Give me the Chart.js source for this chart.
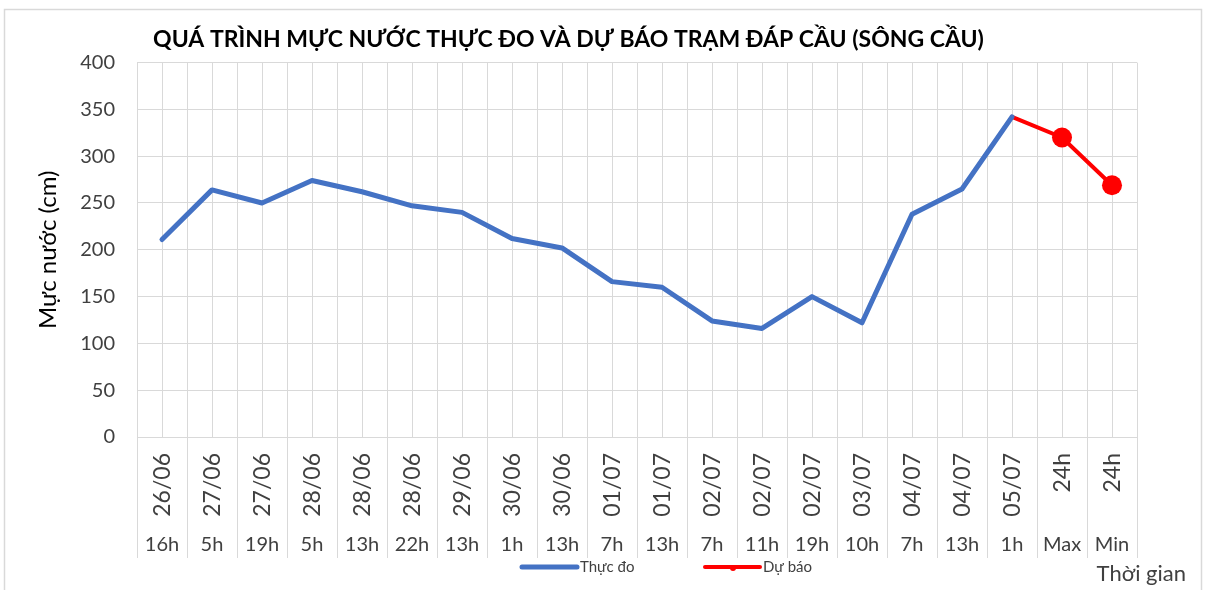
<!DOCTYPE html>
<html lang="vi">
<head>
<meta charset="utf-8">
<title>Mực nước trạm Đáp Cầu</title>
<script src="https://cdn.jsdelivr.net/npm/chart.js@4.4.1/dist/chart.umd.min.js"></script>
<style>
  html, body { margin: 0; padding: 0; background: #fff; }
  #khung { width: 1209px; height: 590px; position: relative; }
</style>
</head>
<body>
<div id="khung"><canvas id="bieuDo"></canvas></div>
<script>
// Dữ liệu
const ngay = ["26/06", "27/06", "27/06", "28/06", "28/06", "28/06", "29/06", "30/06", "30/06", "01/07",
  "01/07", "02/07", "02/07", "02/07", "03/07", "04/07", "04/07", "05/07", "24h", "24h"];
const gio = ["16h", "5h", "19h", "5h", "13h", "22h", "13h", "1h", "13h", "7h",
  "13h", "7h", "11h", "19h", "10h", "7h", "13h", "1h", "Max", "Min"];
const thucDo = [211, 264, 250, 274, 262, 247, 240, 212, 202, 166,
  160, 124, 116, 150, 122, 238, 265, 342, null, null];
const duBao = [null, null, null, null, null, null, null, null, null, null,
  null, null, null, null, null, null, null, 342, 320, 269];
const mocTrucY = [0, 50, 100, 150, 200, 250, 300, 350, 400];

const FONT = "Lato, 'Open Sans', sans-serif";
const MAU_CHU = "#404040";
const MAU_LUOI = "#d9d9d9";

// Khung viền, lưới giữa cột, nhãn hai tầng và chú thích
const veThem = {
  id: "veThem",
  beforeDraw(chart) {
    const ctx = chart.ctx;
    ctx.save();
    ctx.fillStyle = "#fff";
    ctx.fillRect(0, 0, chart.width, chart.height);
    ctx.strokeStyle = MAU_LUOI;
    ctx.lineWidth = 1.5;
    ctx.strokeRect(4.5, 9.5, 1197, 600);
    ctx.restore();
  },
  beforeDatasetsDraw(chart) {
    const ctx = chart.ctx;
    const xs = chart.scales.x;
    const a = chart.chartArea;
    ctx.save();
    ctx.strokeStyle = MAU_LUOI;
    ctx.lineWidth = 1;
    for (let i = 0; i < ngay.length; i++) {
      const x = Math.round(xs.getPixelForValue(i)) + 0.5;
      ctx.beginPath();
      ctx.moveTo(x, a.top);
      ctx.lineTo(x, a.bottom);
      ctx.stroke();
    }
    ctx.restore();
  },
  afterDraw(chart) {
    const ctx = chart.ctx;
    const xs = chart.scales.x;
    ctx.save();
    ctx.fillStyle = MAU_CHU;
    for (let i = 0; i < ngay.length; i++) {
      const x = xs.getPixelForValue(i);
      // ngày xoay dọc
      ctx.save();
      ctx.font = "23px " + FONT;
      ctx.translate(x + 1, 453);
      ctx.rotate(-Math.PI / 2);
      ctx.textAlign = "right";
      ctx.textBaseline = "middle";
      ctx.fillText(ngay[i], 0, 0);
      ctx.restore();
      // giờ
      ctx.font = "20px " + FONT;
      ctx.textAlign = "center";
      ctx.textBaseline = "middle";
      ctx.fillText(gio[i], x, 545);
    }

    // chú thích
    const viTri = [522, 705];
    const yCt = 567;
    chart.data.datasets.forEach(function (ds, k) {
      const x0 = viTri[k];
      ctx.strokeStyle = ds.borderColor;
      ctx.lineWidth = ds.borderWidth;
      ctx.lineCap = "round";
      ctx.beginPath();
      ctx.moveTo(x0, yCt);
      ctx.lineTo(x0 + 55, yCt);
      ctx.stroke();
      if (k === 1) {
        ctx.fillStyle = ds.borderColor;
        ctx.beginPath();
        ctx.arc(x0 + 28, yCt + 1, 3, 0, Math.PI * 2);
        ctx.fill();
      }
      ctx.fillStyle = MAU_CHU;
      ctx.font = "15px " + FONT;
      ctx.textAlign = "left";
      ctx.textBaseline = "middle";
      ctx.fillText(ds.label, x0 + 58, yCt);
    });

    // tên trục hoành
    ctx.font = "22px " + FONT;
    ctx.fillStyle = MAU_CHU;
    ctx.textAlign = "right";
    ctx.fillText("Thời gian", 1186, 574);
    ctx.restore();
  }
};

const ctx = document.getElementById("bieuDo").getContext("2d");
const bieuDo = new Chart(ctx, {
  type: "line",
  data: {
    labels: gio,
    datasets: [
      {
        label: "Thực đo",
        data: thucDo,
        borderColor: "#4472c4",
        backgroundColor: "#4472c4",
        borderWidth: 5,
        pointRadius: 0,
        pointHoverRadius: 0,
        borderJoinStyle: "round",
        borderCapStyle: "round",
        tension: 0
      },
      {
        label: "Dự báo",
        data: duBao,
        borderColor: "#ff0000",
        backgroundColor: "#ff0000",
        borderWidth: 4,
        pointRadius: duBao.map(function (v, i) { return i >= 18 ? 10 : 0; }),
        pointBackgroundColor: "#ff0000",
        pointBorderWidth: 0,
        borderCapStyle: "round",
        tension: 0
      }
    ]
  },
  options: {
    responsive: true,
    maintainAspectRatio: false,
    animation: false,
    layout: { padding: { left: 0, right: 72, top: 0, bottom: 0 } },
    scales: {
      x: {
        type: "category",
        offset: true,
        ticks: { display: false },
        grid: { offset: true, color: MAU_LUOI, tickLength: 121, tickColor: MAU_LUOI, lineWidth: 1 },
        border: { color: MAU_LUOI, width: 1 },
        afterFit: function (s) { s.height = 153; }
      },
      y: {
        min: 0,
        max: 400,
        afterBuildTicks: function (s) { s.ticks = mocTrucY.map(function (v) { return { value: v }; }); },
        ticks: { color: MAU_CHU, font: { family: FONT, size: 20 }, padding: 22 },
        grid: { color: MAU_LUOI, drawTicks: false },
        border: { color: MAU_LUOI },
        title: {
          display: true,
          text: "Mực nước (cm)",
          color: "#000",
          font: { family: FONT, size: 24 },
          padding: { top: 34, bottom: 0 }
        },
        afterFit: function (s) { s.width = 137; }
      }
    },
    plugins: {
      legend: { display: false },
      tooltip: { enabled: false },
      title: {
        display: true,
        text: "QUÁ TRÌNH MỰC NƯỚC THỰC ĐO VÀ DỰ BÁO TRẠM ĐÁP CẦU (SÔNG CẦU)",
        color: "#000",
        font: { family: FONT, size: 23, weight: "bold" },
        padding: { top: 26, bottom: 9 }
      }
    }
  },
  plugins: [veThem]
});
</script>
</body>
</html>
